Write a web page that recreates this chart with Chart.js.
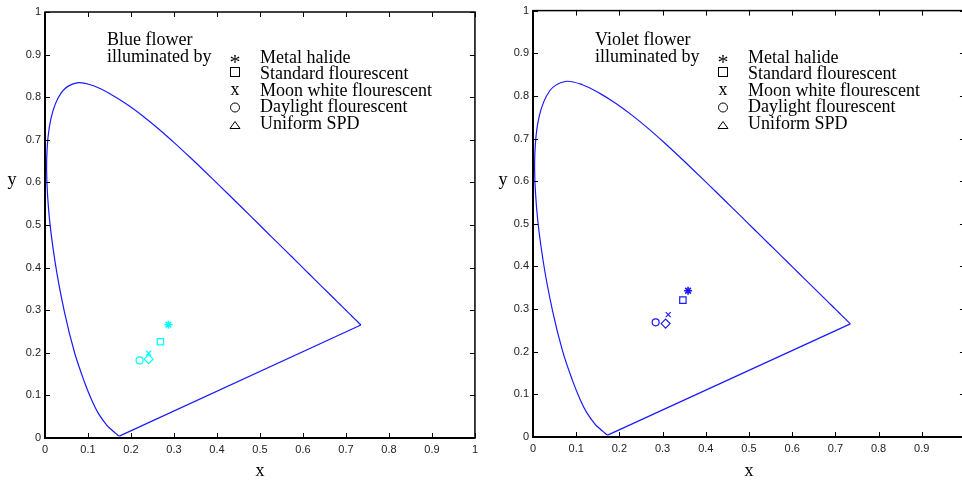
<!DOCTYPE html>
<html>
<head>
<meta charset="utf-8">
<script src="https://cdn.jsdelivr.net/npm/chart.js@4.4.1/dist/chart.umd.min.js"></script>
<style>
  html, body { margin: 0; padding: 0; background: #fff; overflow: hidden; width: 962px; height: 480px; }
  canvas { position: absolute; top: 0; }
  #leftChart { left: 0; }
  #rightChart { left: 488px; }
</style>
</head>
<body>
<canvas id="leftChart" width="483" height="480"></canvas>
<canvas id="rightChart" width="485" height="480"></canvas>
<script>
'use strict';

// CIE 1931 spectral locus, 380 nm ... 700 nm
const locusX = [0.1741, 0.1738, 0.1733, 0.1726, 0.1714, 0.1689, 0.1644, 0.1566, 0.1440, 0.1241,
  0.1096, 0.0913, 0.0687, 0.0454, 0.0235, 0.0082, 0.0039, 0.0139, 0.0389, 0.0743,
  0.1142, 0.1547, 0.1929, 0.2296, 0.2658, 0.3016, 0.3373, 0.3731, 0.4087, 0.4441,
  0.4788, 0.5125, 0.5448, 0.5752, 0.6029, 0.6270, 0.6482, 0.6658, 0.6801, 0.6915,
  0.7006, 0.7079, 0.7140, 0.7190, 0.7230, 0.7260, 0.7283, 0.7300, 0.7347];
const locusY = [0.0050, 0.0049, 0.0048, 0.0048, 0.0051, 0.0069, 0.0109, 0.0177, 0.0297, 0.0578,
  0.0868, 0.1327, 0.2007, 0.2950, 0.4127, 0.5384, 0.6548, 0.7502, 0.8120, 0.8338,
  0.8262, 0.8059, 0.7816, 0.7543, 0.7243, 0.6923, 0.6589, 0.6245, 0.5896, 0.5547,
  0.5202, 0.4866, 0.4544, 0.4242, 0.3965, 0.3725, 0.3514, 0.3340, 0.3197, 0.3083,
  0.2993, 0.2920, 0.2859, 0.2809, 0.2770, 0.2740, 0.2717, 0.2700, 0.2653];

// purple line closing the locus (700 nm back to 380 nm)
const purpleX = [0.7347, 0.1741];
const purpleY = [0.2653, 0.0050];

// illuminants, same order in both panels
const illuminants = ['Metal halide', 'Standard flourescent', 'Moon white flourescent', 'Daylight flourescent', 'Uniform SPD'];

const blueX = [0.287, 0.2685, 0.241, 0.220, 0.241];
const blueY = [0.266, 0.226, 0.199, 0.182, 0.185];

const violetX = [0.359, 0.347, 0.313, 0.284, 0.307];
const violetY = [0.343, 0.321, 0.287, 0.269, 0.266];

const tickValues = [0, 0.1, 0.2, 0.3, 0.4, 0.5, 0.6, 0.7, 0.8, 0.9, 1];
const tickLabels = ['0', '0.1', '0.2', '0.3', '0.4', '0.5', '0.6', '0.7', '0.8', '0.9', '1'];

const markerStyles = ['star', 'rect', 'crossRot', 'circle', 'rectRot'];
const markerRadius = [4, 4.5, 3.5, 3.5, 4.5];
const markerWidth = [1.6, 1.2, 1.2, 1.2, 1.2];

const serif = '"Liberation Serif", "Times New Roman", serif';

// box with inward ticks on all four sides
const framePlugin = {
  id: 'frame',
  afterDatasetsDraw(chart) {
    const { ctx, chartArea: a, scales } = chart;
    ctx.save();
    ctx.strokeStyle = '#000';
    ctx.lineWidth = 1;
    ctx.beginPath();
    tickValues.forEach((v) => {
      const px = Math.round(scales.x.getPixelForValue(v)) + 0.5;
      const py = Math.round(scales.y.getPixelForValue(v)) + 0.5;
      ctx.moveTo(px, a.bottom); ctx.lineTo(px, a.bottom - 5);
      ctx.moveTo(px, a.top); ctx.lineTo(px, a.top + 5);
      ctx.moveTo(a.left, py); ctx.lineTo(a.left + 5, py);
      ctx.moveTo(a.right, py); ctx.lineTo(a.right - 5, py);
    });
    ctx.stroke();
    ctx.lineWidth = 1.5;
    ctx.strokeRect(a.left, a.top, a.right - a.left, a.bottom - a.top);
    ctx.lineWidth = 2;
    ctx.beginPath();
    ctx.moveTo(a.left, a.top); ctx.lineTo(a.left, a.bottom); ctx.lineTo(a.right, a.bottom);
    ctx.stroke();
    ctx.restore();
  }
};

// annotation text, marker key and axis names
const notesPlugin = {
  id: 'notes',
  afterDraw(chart, args, opts) {
    const { ctx, chartArea: a } = chart;
    ctx.save();
    ctx.fillStyle = '#000';
    ctx.strokeStyle = '#000';
    ctx.lineWidth = 1;
    ctx.font = '18px ' + serif;
    ctx.textAlign = 'left';
    ctx.textBaseline = 'alphabetic';
    ctx.fillText(opts.title[0], a.left + 62, 45);
    ctx.fillText(opts.title[1], a.left + 62, 62);

    const sx = a.left + 190;
    const baselines = [63, 79, 96, 112, 129];
    illuminants.forEach((name, i) => {
      ctx.fillText(name, a.left + 215, baselines[i]);
    });
    // key symbols
    ctx.textAlign = 'center';
    ctx.fillText('x', sx, 95);
    ctx.font = '22px ' + serif;
    ctx.fillText('*', sx, 69);
    ctx.strokeRect(sx - 4.5, 67.5, 9, 9);
    ctx.beginPath();
    ctx.arc(sx, 107.5, 4.5, 0, Math.PI * 2);
    ctx.stroke();
    ctx.beginPath();
    ctx.moveTo(sx, 121.5); ctx.lineTo(sx + 5, 128.5); ctx.lineTo(sx - 5, 128.5); ctx.closePath();
    ctx.stroke();

    // axis names
    ctx.font = '18px ' + serif;
    ctx.fillText('x', (a.left + a.right) / 2, 476);
    ctx.fillText('y', a.left - opts.yNameOffset, 185);
    ctx.restore();
  }
};

function makeChart(id, xs, ys, color, title, pad, yNameOffset) {
  const ctx = document.getElementById(id).getContext('2d');
  return new Chart(ctx, {
    type: 'scatter',
    data: {
      datasets: [
        {
          data: locusX.map((x, i) => ({ x: x, y: locusY[i] })),
          showLine: true,
          borderColor: '#1a1aff',
          borderWidth: 1.2,
          pointRadius: 0,
          tension: 0.35
        },
        {
          data: purpleX.map((x, i) => ({ x: x, y: purpleY[i] })),
          showLine: true,
          borderColor: '#1a1aff',
          borderWidth: 1.2,
          pointRadius: 0,
          tension: 0
        },
        {
          data: xs.map((x, i) => ({ x: x, y: ys[i] })),
          showLine: false,
          pointStyle: markerStyles,
          pointRadius: markerRadius,
          pointBorderWidth: markerWidth,
          borderColor: color,
          backgroundColor: 'rgba(0,0,0,0)'
        }
      ]
    },
    options: {
      responsive: false,
      devicePixelRatio: 1,
      animation: false,
      layout: { padding: { left: 0, top: pad.top, right: 2, bottom: 0 } },
      plugins: {
        legend: { display: false },
        tooltip: { enabled: false },
        notes: { title: title, yNameOffset: yNameOffset }
      },
      scales: {
        x: {
          type: 'linear',
          min: 0,
          max: 1,
          afterBuildTicks: (s) => { s.ticks = tickValues.map((v) => ({ value: v })); },
          afterFit: (s) => { s.height = pad.bottom; },
          grid: { display: false, drawTicks: false },
          border: { display: false },
          ticks: {
            padding: 5,
            maxRotation: 0,
            autoSkip: false,
            color: '#222',
            font: { family: '"Liberation Sans", Arial, sans-serif', size: 11 },
            callback: (v, i) => tickLabels[i]
          }
        },
        y: {
          type: 'linear',
          min: 0,
          max: 1,
          afterBuildTicks: (s) => { s.ticks = tickValues.map((v) => ({ value: v })); },
          afterFit: (s) => { s.width = 45; },
          grid: { display: false, drawTicks: false },
          border: { display: false },
          ticks: {
            padding: 4,
            autoSkip: false,
            color: '#222',
            font: { family: '"Liberation Sans", Arial, sans-serif', size: 11 },
            callback: (v, i) => tickLabels[i]
          }
        }
      }
    },
    plugins: [framePlugin, notesPlugin]
  });
}

makeChart('leftChart', blueX, blueY, '#00ffff', ['Blue flower', 'illuminated by'], { top: 12, bottom: 42 }, 33);
makeChart('rightChart', violetX, violetY, '#1a1aff', ['Violet flower', 'illuminated by'], { top: 9, bottom: 43 }, 30);
</script>
</body>
</html>
